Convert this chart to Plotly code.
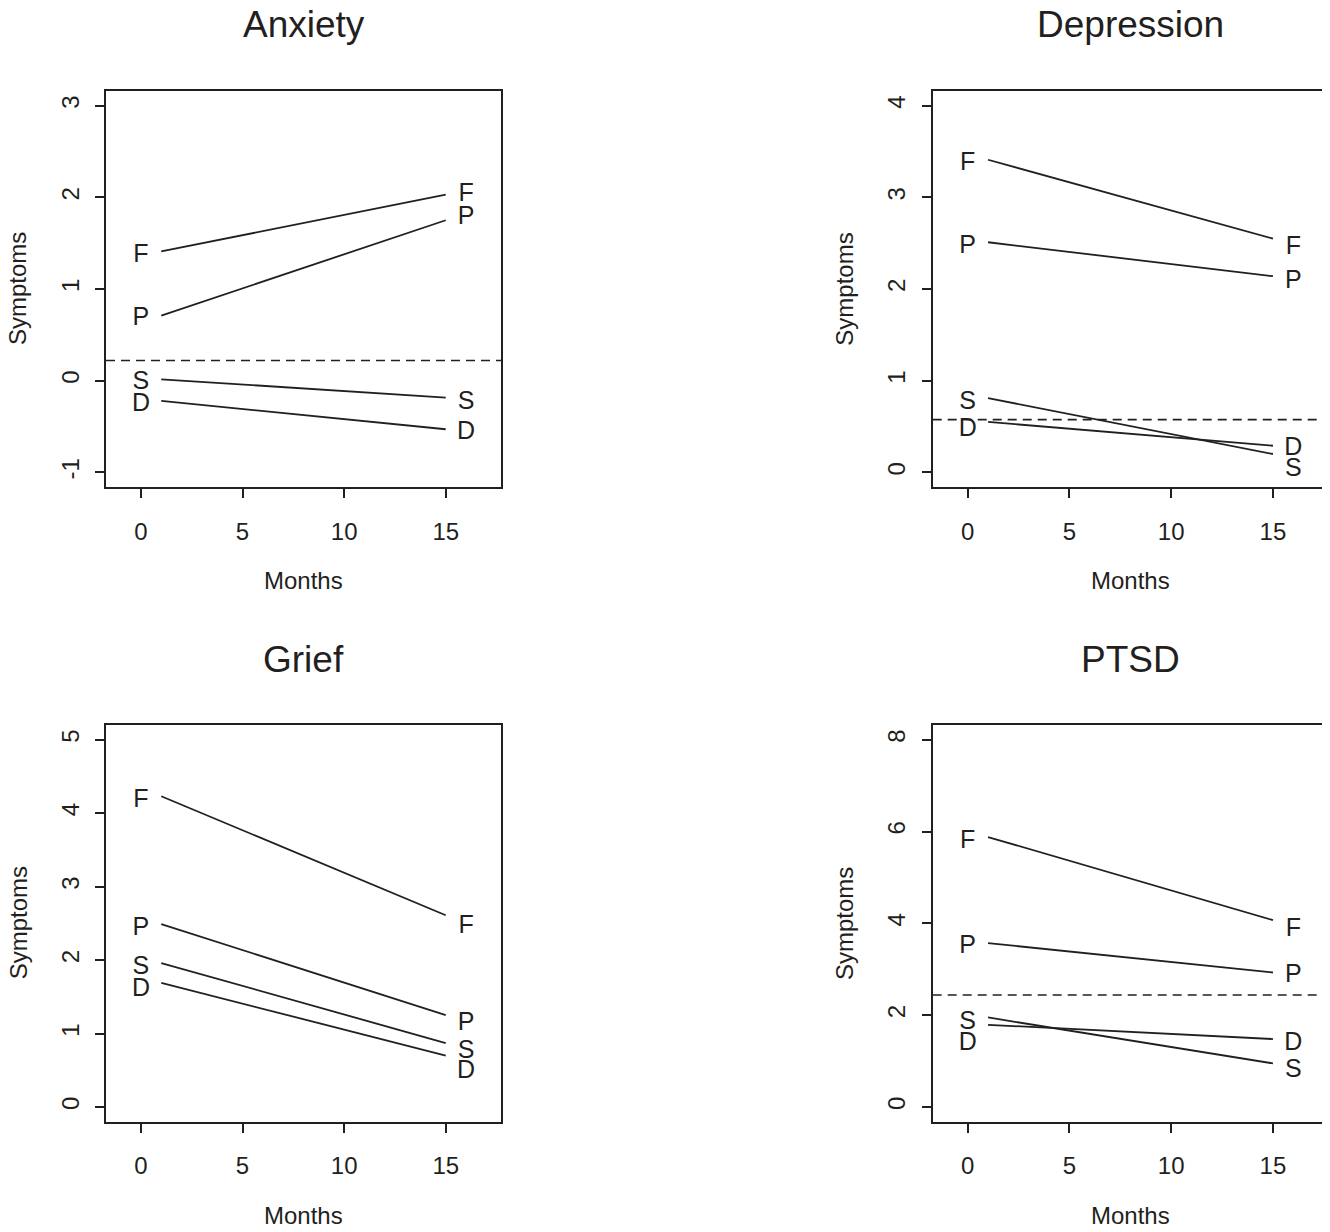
import plotly.graph_objects as go

# ---------------- data ----------------
groups = ["F", "P", "S", "D"]
line_x = [1, 15]          # months where the segments start / end
label_x = [0, 16]         # months where the group letters sit

panel_titles = ["Anxiety", "Depression", "Grief", "PTSD"]

anxiety_start = [1.41, 0.71, 0.015, -0.22]
anxiety_end = [2.03, 1.75, -0.185, -0.53]
anxiety_ref = 0.22
anxiety_lab_start = [1.36, 0.68, -0.02, -0.26]
anxiety_lab_end = [2.03, 1.78, -0.24, -0.57]

depression_start = [3.41, 2.51, 0.81, 0.55]
depression_end = [2.55, 2.14, 0.20, 0.29]
depression_ref = 0.575
depression_lab_start = [3.37, 2.46, 0.76, 0.47]
depression_lab_end = [2.45, 2.08, 0.03, 0.26]

grief_start = [4.23, 2.49, 1.96, 1.69]
grief_end = [2.61, 1.25, 0.87, 0.70]
grief_ref = None
grief_lab_start = [4.17, 2.43, 1.89, 1.60]
grief_lab_end = [2.45, 1.14, 0.75, 0.48]

ptsd_start = [5.88, 3.57, 1.95, 1.79]
ptsd_end = [4.07, 2.93, 0.95, 1.48]
ptsd_ref = 2.44
ptsd_lab_start = [5.78, 3.48, 1.83, 1.38]
ptsd_lab_end = [3.87, 2.86, 0.80, 1.37]

x_ticks = [0, 5, 10, 15]
x_lim = [-1, 17]
y_lims = [[-1, 3], [0, 4], [0, 5], [0, 8]]
y_ticks = [[-1, 0, 1, 2, 3], [0, 1, 2, 3, 4], [0, 1, 2, 3, 4, 5], [0, 2, 4, 6, 8]]

panels = [
    (anxiety_start, anxiety_end, anxiety_ref, anxiety_lab_start, anxiety_lab_end),
    (depression_start, depression_end, depression_ref, depression_lab_start, depression_lab_end),
    (grief_start, grief_end, grief_ref, grief_lab_start, grief_lab_end),
    (ptsd_start, ptsd_end, ptsd_ref, ptsd_lab_start, ptsd_lab_end),
]

# ---------------- layout ----------------
OFF = 8                       # default page margin around the plot div
W, H = 1330 - OFF, 1232 - OFF
INK = "#231f20"
FONT = "Liberation Sans, Arial, Helvetica, sans-serif"

# panel boxes in page pixels: (left, right, top, bottom)
boxes = [
    (106, 501, 91, 487),
    (932.7, 1328.3, 91, 487),
    (106, 501, 725, 1121.7),
    (932.7, 1328.3, 725, 1121.7),
]


def r_range(lim):
    span = lim[1] - lim[0]
    return [lim[0] - 0.04 * span, lim[1] + 0.04 * span]


fig = go.Figure()
layout = dict(
    width=W, height=H,
    margin=dict(l=0, r=0, t=0, b=0),
    paper_bgcolor="white", plot_bgcolor="white",
    showlegend=False,
    font=dict(family=FONT, color=INK, size=24),
    annotations=[], shapes=[],
)

for i, (start, end, ref, lab_s, lab_e) in enumerate(panels):
    n = i + 1
    xa = "x" if n == 1 else f"x{n}"
    ya = "y" if n == 1 else f"y{n}"
    l, r, t, b = (v - OFF for v in boxes[i])
    axis_common = dict(
        showline=True, mirror=True, linecolor=INK, linewidth=1.6,
        ticks="outside", ticklen=9, tickwidth=1.5, tickcolor=INK,
        showgrid=False, zeroline=False,
        tickfont=dict(family=FONT, size=24, color=INK),
    )
    layout["xaxis" if n == 1 else f"xaxis{n}"] = dict(
        axis_common,
        domain=[l / W, r / W], anchor=ya,
        range=r_range(x_lim), tickvals=x_ticks,
        ticktext=[str(v) for v in x_ticks],
        ticklabelstandoff=13,
    )
    layout["yaxis" if n == 1 else f"yaxis{n}"] = dict(
        axis_common,
        domain=[1 - b / H, 1 - t / H], anchor=xa,
        range=r_range(y_lims[i]), tickvals=y_ticks[i],
        ticktext=[str(v) for v in y_ticks[i]],
        tickangle=-90, ticklabelstandoff=7,
    )

    for g, s0, s1, ls, le in zip(groups, start, end, lab_s, lab_e):
        fig.add_trace(go.Scatter(
            x=line_x, y=[s0, s1], mode="lines",
            line=dict(color=INK, width=1.8),
            xaxis=xa, yaxis=ya, hoverinfo="skip",
        ))
        fig.add_trace(go.Scatter(
            x=label_x, y=[ls, le], mode="text", text=[g, g],
            textposition="middle center",
            textfont=dict(family=FONT, size=25, color=INK),
            xaxis=xa, yaxis=ya, hoverinfo="skip",
        ))

    if ref is not None:
        layout["shapes"].append(dict(
            type="line", xref=f"{xa} domain", yref=ya,
            x0=0, x1=1, y0=ref, y1=ref,
            line=dict(color=INK, width=1.6, dash="9px,6px"),
        ))

    pw, ph = r - l, b - t
    layout["annotations"] += [
        dict(text=panel_titles[i], xref=f"{xa} domain", yref=f"{ya} domain",
             x=0.5, y=1 + 66 / ph, xanchor="center", yanchor="middle",
             showarrow=False, font=dict(family=FONT, size=37, color=INK)),
        dict(text="Months", xref=f"{xa} domain", yref=f"{ya} domain",
             x=0.5, y=-94 / ph, xanchor="center", yanchor="middle",
             showarrow=False, font=dict(family=FONT, size=24, color=INK)),
        dict(text="Symptoms", xref=f"{xa} domain", yref=f"{ya} domain",
             x=-88 / pw, y=0.5, xanchor="center", yanchor="middle",
             textangle=-90,
             showarrow=False, font=dict(family=FONT, size=24, color=INK)),
    ]

fig.update_layout(**layout)
fig.write_html("out.html")
